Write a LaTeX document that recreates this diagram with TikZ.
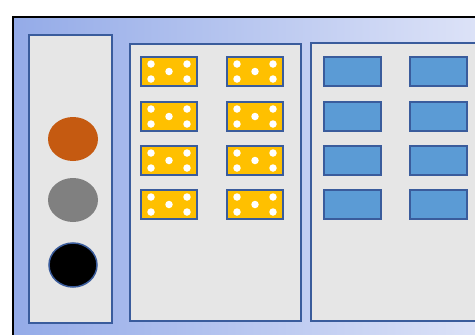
\documentclass[tikz,border=0pt]{standalone}
\usetikzlibrary{shapes.geometric}
\definecolor{bgL}{HTML}{94ABE8}
\definecolor{bgR}{HTML}{E0E5F8}
\definecolor{panelfill}{HTML}{E6E6E6}
\definecolor{edge}{HTML}{3A5C9C}
\definecolor{boxblue}{HTML}{5B9BD5}
\definecolor{boxyellow}{HTML}{FFC000}
\definecolor{orangec}{HTML}{C55A11}
\definecolor{grayc}{HTML}{808080}
\tikzset{
  panel/.style={draw=edge, line width=2.5pt, fill=panelfill},
  ybox/.style={draw=edge, line width=2.5pt, fill=boxyellow, minimum width=56pt, minimum height=29pt, inner sep=0pt},
  bbox/.style={draw=edge, line width=2.5pt, fill=boxblue, minimum width=57pt, minimum height=29pt, inner sep=0pt},
  dot/.style={fill=white, draw=none, circle, minimum size=7.5pt, inner sep=0pt},
  lamp/.style={ellipse, minimum width=50pt, minimum height=44pt, inner sep=0pt}
}
\begin{document}
\begin{tikzpicture}[x=1pt,y=-1pt]
\useasboundingbox (0,0) rectangle (475,335);
\clip (0,0) rectangle (475,335);
\fill[white] (0,0) rectangle (475,335);
% outer frame
\shade[left color=bgL, right color=bgR, draw=black, line width=2.5pt] (13,17) rectangle (500,360);
% panels
\draw[panel] (29,35) rectangle (112,323);
\draw[panel] (130,44) rectangle (301,321);
\draw[panel] (311,43) rectangle (520,321);
% lamps
\node[lamp, fill=orangec] (l1) at (73,139) {};
\node[lamp, fill=grayc] (l2) at (73,200) {};
\node[lamp, fill=black, draw=edge, line width=1.5pt, minimum width=48pt, minimum height=44pt] (l3) at (73,265) {};
% yellow boxes with dots
\foreach \r/\yy in {1/71.5,2/116.5,3/160.5,4/204.5}{
  \foreach \c/\xx in {1/169,2/255}{
    \node[ybox] (y\r\c) at (\xx,\yy) {};
    \node[dot] at ([xshift=-18pt,yshift=-7.5pt]y\r\c.center) {};
    \node[dot] at ([xshift=18pt,yshift=-7.5pt]y\r\c.center) {};
    \node[dot] at ([xshift=-18pt,yshift=7.5pt]y\r\c.center) {};
    \node[dot] at ([xshift=18pt,yshift=7.5pt]y\r\c.center) {};
    \node[dot] at (y\r\c.center) {};
  }
}
% blue boxes
\foreach \r/\yy in {1/71.5,2/116.5,3/160.5,4/204.5}{
  \foreach \c/\xx in {1/352.5,2/438.5}{
    \node[bbox] (b\r\c) at (\xx,\yy) {};
  }
}
\end{tikzpicture}
\end{document}
